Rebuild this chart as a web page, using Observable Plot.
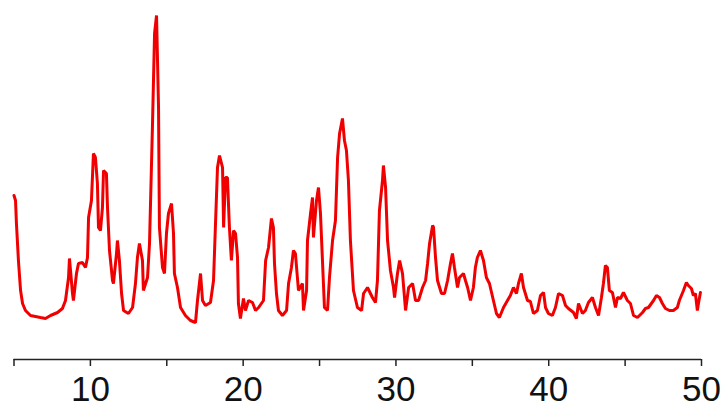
<!DOCTYPE html>
<html>
<head>
<meta charset="utf-8">
<script src="https://cdn.jsdelivr.net/npm/d3@7"></script>
<script src="https://cdn.jsdelivr.net/npm/@observablehq/plot@0.6"></script>
<style>
  html, body { margin: 0; padding: 0; background: #fff; }
  #chart svg { display: block; }
</style>
</head>
<body>
<div id="chart"></div>
<script>
// 2θ (degrees) and intensity (arbitrary units)
const twoTheta = [
  5.00, 5.10, 5.16, 5.29, 5.43, 5.56, 5.75, 6.08, 6.73, 7.06, 7.39, 7.85, 8.17, 8.37, 8.57, 8.63, 8.83, 8.89,
  9.09, 9.22, 9.48, 9.68, 9.81, 9.88, 10.07, 10.20, 10.33, 10.46, 10.53, 10.66, 10.79, 10.86, 11.05, 11.12,
  11.25, 11.45, 11.51, 11.71, 11.77, 11.90, 12.04, 12.17, 12.49, 12.76, 12.95, 13.08, 13.21, 13.41, 13.47,
  13.74, 13.87, 14.06, 14.20, 14.33, 14.46, 14.52, 14.72, 14.85, 14.98, 15.11, 15.31, 15.44, 15.50, 15.70,
  15.90, 16.22, 16.55, 16.88, 17.01, 17.21, 17.34, 17.53, 17.86, 18.06, 18.19, 18.32, 18.45, 18.65, 18.72,
  18.84, 18.97, 19.10, 19.23, 19.37, 19.50, 19.63, 19.69, 19.82, 20.02, 20.15, 20.35, 20.61, 20.81, 21.01,
  21.33, 21.47, 21.66, 21.85, 21.98, 22.05, 22.18, 22.31, 22.57, 22.84, 22.97, 23.16, 23.29, 23.42, 23.55,
  23.62, 23.88, 23.95, 24.15, 24.21, 24.41, 24.54, 24.60, 24.80, 24.93, 25.06, 25.19, 25.32, 25.52, 25.65,
  25.85, 26.04, 26.18, 26.31, 26.50, 26.63, 26.76, 26.89, 27.02, 27.22, 27.48, 27.75, 27.88, 28.14, 28.46,
  28.66, 28.79, 28.92, 29.12, 29.18, 29.32, 29.45, 29.64, 29.84, 29.91, 30.10, 30.24, 30.43, 30.63, 30.83,
  31.09, 31.28, 31.48, 31.74, 31.94, 32.07, 32.20, 32.40, 32.46, 32.59, 32.72, 32.98, 33.18, 33.38, 33.57,
  33.70, 33.83, 34.03, 34.16, 34.42, 34.55, 34.69, 34.88, 35.07, 35.20, 35.33, 35.53, 35.73, 35.92, 36.12,
  36.38, 36.58, 36.77, 37.04, 37.30, 37.49, 37.69, 37.89, 38.02, 38.21, 38.35, 38.61, 38.80, 39.00, 39.26,
  39.46, 39.66, 39.79, 39.98, 40.24, 40.44, 40.64, 40.90, 41.10, 41.29, 41.62, 41.81, 41.95, 42.21, 42.40,
  42.60, 42.86, 43.06, 43.26, 43.45, 43.58, 43.71, 43.84, 43.97, 44.17, 44.37, 44.50, 44.70, 44.89, 45.15,
  45.35, 45.55, 45.81, 46.14, 46.33, 46.53, 46.86, 47.05, 47.25, 47.44, 47.64, 47.90, 48.16, 48.42, 48.55,
  48.82, 49.01, 49.14, 49.34, 49.47, 49.60, 49.73, 49.80, 49.93
];
const intensity = [
  164, 159, 136, 99, 69, 56, 49, 44, 42, 41, 44, 47, 51, 59, 82, 101, 66, 59,
  86, 96, 97, 92, 102, 142, 159, 206, 202, 176, 132, 129, 152, 189, 186, 152,
  109, 79, 76, 106, 119, 99, 66, 49, 46, 52, 76, 102, 116, 99, 69,
  82, 116, 232, 326, 344, 252, 132, 92, 86, 126, 146, 156, 126, 86, 72,
  52, 44, 39, 37, 59, 86, 59, 54, 57, 79, 136, 192, 204, 192, 132,
  182, 182, 132, 99, 129, 126, 102, 56, 41, 61, 49, 59, 57, 49, 52,
  59, 99, 112, 141, 132, 96, 66, 49, 44, 49, 76, 92, 109, 106, 82,
  69, 76, 49, 69, 119, 146, 162, 122, 159, 172, 146, 99, 52, 49, 82,
  119, 139, 202, 226, 241, 219, 209, 179, 119, 69, 52, 49, 66, 72, 62,
  57, 79, 149, 179, 194, 172, 119, 89, 72, 62, 86, 99, 86, 49, 72,
  76, 59, 59, 72, 79, 96, 116, 134, 132, 102, 79, 66, 66, 79, 96,
  106, 92, 72, 82, 86, 79, 72, 59, 72, 92, 102, 109, 99, 82, 76,
  59, 46, 42, 52, 59, 64, 72, 66, 76, 86, 72, 59, 58, 46, 49,
  64, 67, 52, 46, 44, 52, 66, 64, 54, 51, 47, 41, 56, 46, 49,
  57, 62, 52, 44, 62, 76, 94, 92, 69, 67, 52, 62, 61, 67, 59,
  56, 44, 42, 47, 51, 52, 59, 64, 62, 56, 51, 49, 49, 52, 59,
  69, 77, 74, 71, 64, 66, 49, 56, 67
];
const xTicks = [5, 10, 15, 20, 25, 30, 35, 40, 45, 50];
const xTickLabels = ["", "10", "", "20", "", "30", "", "40", "", "50"];

const data = twoTheta.map((t, i) => ({t, v: intensity[i]}));

const chart = Plot.plot({
  width: 727,
  height: 410,
  marginLeft: 13.5,
  marginRight: 26,
  marginTop: 15,
  marginBottom: 51,
  style: {background: "#fff", fontFamily: "'Liberation Sans', Arial, sans-serif", overflow: "visible"},
  x: {domain: [5, 50]},
  y: {domain: [0, 344], axis: null},
  marks: [
    Plot.ruleY([0], {stroke: "#222", strokeWidth: 1.5}),
    Plot.axisX({
      ticks: xTicks,
      tickFormat: (d) => xTickLabels[xTicks.indexOf(d)],
      tickSize: 7,
      tickPadding: 10,
      fontSize: 35,
      stroke: "#222",
      strokeWidth: 1.5,
      fill: "#111",
      label: null
    }),
    Plot.line(data, {x: "t", y: "v", stroke: "#f00000", strokeWidth: 3, strokeLinejoin: "miter"})
  ]
});
document.getElementById("chart").append(chart);
</script>
</body>
</html>
